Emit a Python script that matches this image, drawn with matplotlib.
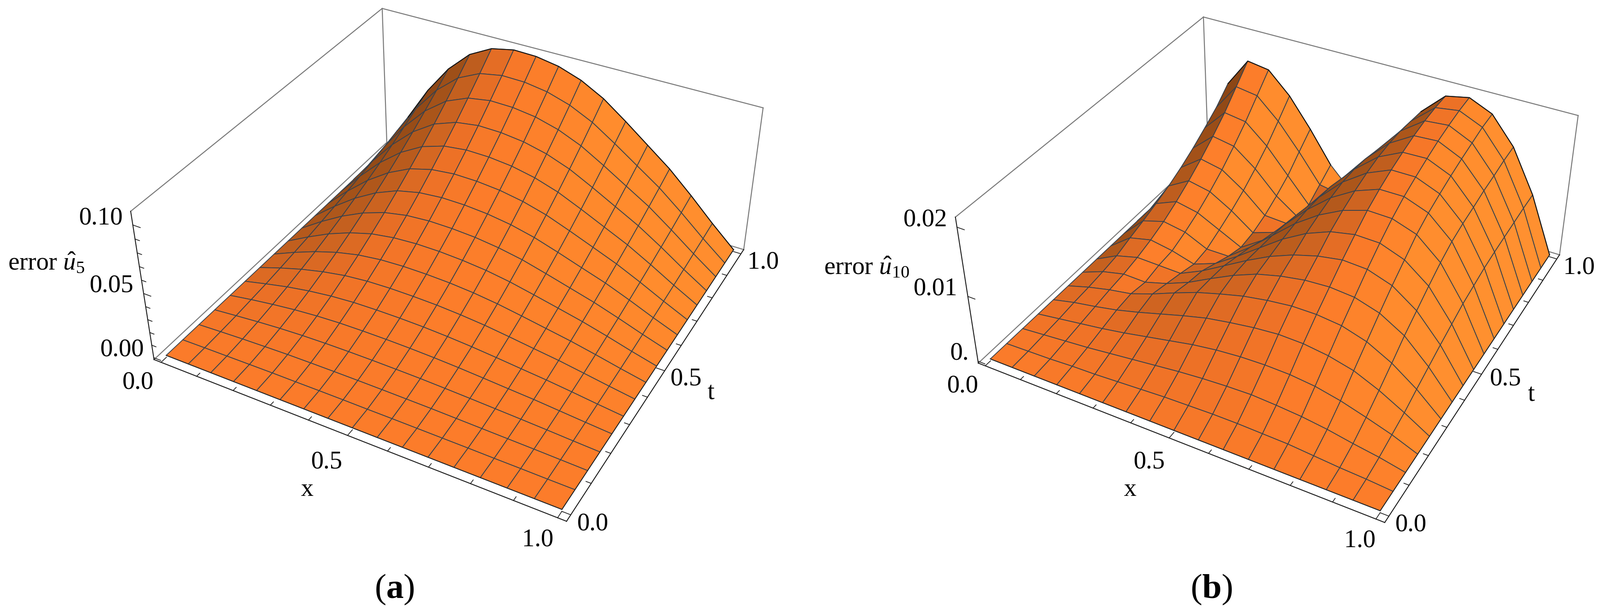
import numpy as np
import matplotlib
matplotlib.use('Agg')
import matplotlib.pyplot as plt

plt.rcParams['font.family'] = ['Liberation Serif']
plt.rcParams['mathtext.fontset'] = 'custom'
plt.rcParams['mathtext.rm'] = 'Liberation Serif'
plt.rcParams['mathtext.it'] = 'Liberation Serif:italic'
plt.rcParams['mathtext.bf'] = 'Liberation Serif:bold'

W = 3620
H = 1387

x_nodes = [i / 16 for i in range(17)]
t_nodes = [j / 16 for j in range(17)]

# error of u5, one row per t node
err_a = [
    [0, 0, 0, 0, 0, 0, 0, 0, 0, 0, 0, 0, 0, 0, 0, 0, 0],
    [0, .0003, .0005, .0007, .0009, .0009, .0010, .0010, .0009, .0009, .0008, .0007, .0006, .0004, .0003, .0001, 0],
    [0, .0009, .0017, .0023, .0028, .0030, .0031, .0031, .0030, .0028, .0026, .0022, .0018, .0014, .0010, .0005, 0],
    [0, .0017, .0033, .0046, .0055, .0060, .0062, .0062, .0060, .0057, .0051, .0044, .0036, .0028, .0019, .0009, 0],
    [0, .0029, .0054, .0075, .0090, .0099, .0102, .0102, .0099, .0093, .0084, .0072, .0059, .0047, .0031, .0015, 0],
    [0, .0041, .0079, .0109, .0131, .0144, .0148, .0148, .0144, .0135, .0122, .0105, .0086, .0068, .0046, .0022, 0],
    [0, .0057, .0108, .0149, .0180, .0197, .0203, .0202, .0197, .0185, .0168, .0144, .0118, .0093, .0062, .0030, 0],
    [0, .0074, .0140, .0194, .0233, .0255, .0263, .0262, .0255, .0240, .0217, .0186, .0153, .0120, .0081, .0039, 0],
    [0, .0092, .0176, .0243, .0293, .0320, .0331, .0330, .0320, .0302, .0273, .0234, .0193, .0151, .0102, .0049, 0],
    [0, .0113, .0214, .0297, .0357, .0391, .0404, .0402, .0391, .0368, .0334, .0286, .0235, .0184, .0124, .0060, 0],
    [0, .0135, .0257, .0356, .0428, .0468, .0484, .0482, .0468, .0441, .0399, .0342, .0281, .0221, .0149, .0072, 0],
    [0, .0159, .0302, .0418, .0503, .0550, .0569, .0566, .0550, .0518, .0469, .0402, .0331, .0259, .0175, .0085, 0],
    [0, .0184, .0349, .0484, .0582, .0638, .0659, .0656, .0638, .0601, .0544, .0466, .0383, .0300, .0202, .0098, 0],
    [0, .0211, .0400, .0555, .0667, .0730, .0755, .0751, .0730, .0688, .0623, .0534, .0439, .0344, .0232, .0112, 0],
    [0, .0239, .0454, .0630, .0757, .0829, .0857, .0853, .0829, .0781, .0707, .0606, .0498, .0391, .0263, .0128, 0],
    [0, .0269, .0511, .0708, .0851, .0932, .0963, .0959, .0932, .0878, .0795, .0681, .0560, .0439, .0296, .0143, 0],
    [0, .0300, .0570, .0790, .0950, .1040, .1075, .1070, .1040, .0980, .0887, .0760, .0625, .0490, .0330, .0160, 0],
]

# error of u10, same layout
err_b = [
    [0, 0, 0, 0, 0, 0, 0, 0, 0, 0, 0, 0, 0, 0, 0, 0, 0],
    [0, .0001, .0002, .0004, .0005, .0007, .0009, .0011, .0012, .0013, .0013, .0012, .0011, .0008, .0005, .0003, 0],
    [0, .0003, .0006, .0009, .0013, .0017, .0021, .0025, .0028, .0030, .0031, .0029, .0026, .0021, .0014, .0008, 0],
    [0, .0005, .0010, .0015, .0021, .0028, .0035, .0042, .0047, .0050, .0051, .0050, .0046, .0038, .0027, .0015, 0],
    [0, .0008, .0014, .0021, .0030, .0040, .0050, .0059, .0065, .0070, .0073, .0072, .0067, .0058, .0042, .0022, 0],
    [0, .0010, .0018, .0024, .0036, .0050, .0063, .0073, .0082, .0088, .0092, .0092, .0088, .0077, .0058, .0032, 0],
    [0, .0013, .0021, .0020, .0030, .0044, .0062, .0079, .0093, .0102, .0108, .0110, .0107, .0096, .0075, .0041, 0],
    [0, .0017, .0026, .0025, .0024, .0040, .0060, .0080, .0098, .0112, .0122, .0128, .0126, .0114, .0089, .0050, 0],
    [0, .0025, .0033, .0027, .0017, .0030, .0053, .0078, .0103, .0123, .0137, .0144, .0143, .0130, .0103, .0058, 0],
    [0, .0032, .0042, .0036, .0020, .0020, .0046, .0076, .0106, .0130, .0148, .0159, .0158, .0146, .0116, .0066, 0],
    [0, .0040, .0054, .0047, .0030, .0013, .0036, .0072, .0107, .0136, .0157, .0170, .0170, .0157, .0126, .0071, 0],
    [0, .0049, .0068, .0061, .0041, .0016, .0028, .0067, .0106, .0140, .0164, .0179, .0179, .0165, .0132, .0076, 0],
    [0, .0060, .0084, .0077, .0054, .0024, .0022, .0061, .0103, .0140, .0169, .0186, .0187, .0172, .0136, .0079, 0],
    [0, .0073, .0102, .0096, .0070, .0036, .0012, .0052, .0096, .0137, .0171, .0192, .0194, .0178, .0141, .0081, 0],
    [0, .0088, .0122, .0117, .0088, .0050, .0012, .0042, .0086, .0131, .0171, .0196, .0199, .0183, .0144, .0083, 0],
    [0, .0104, .0146, .0141, .0110, .0070, .0026, .0020, .0072, .0123, .0168, .0198, .0203, .0188, .0148, .0085, 0],
    [0, .0125, .0170, .0165, .0133, .0089, .0040, .0006, .0052, .0115, .0165, .0198, .0205, .0190, .0150, .0086, 0],
]

xt_minor = [0.1, 0.2, 0.3, 0.4, 0.6, 0.7, 0.8, 0.9]
xt_major = [0.0, 0.5, 1.0]
z_major_a = [0.0, 0.05, 0.10]
z_minor_a = [0.01, 0.02, 0.03, 0.04, 0.06, 0.07, 0.08, 0.09]
z_major_b = [0.0, 0.01, 0.02]
z_minor_b = []

# pixel position of the box corners, (x, t, z) in unit box -> (px, py)
corners_a = {(0, 0, 0): (348, 814), (0, 0, 1): (296, 478), (1, 0, 0): (1282, 1179), (1, 1, 0): (1682, 566),
             (1, 1, 1): (1727, 243), (0, 1, 0): (876, 321), (0, 1, 1): (864, 20)}
corners_b = {(0, 0, 0): (2213, 822), (0, 0, 1): (2162, 491), (1, 0, 0): (3133, 1182), (1, 1, 0): (3528, 577),
             (1, 1, 1): (3571, 261), (0, 1, 0): (2734, 336), (0, 1, 1): (2722, 39)}

# text, x centre, baseline y
labels_a = [('0.10', 229, 507), ('0.05', 253, 661), ('0.00', 277, 806), ('0.0', 312, 879), ('0.5', 739, 1060),
            ('1.0', 1217, 1235), ('0.0', 1341, 1199), ('0.5', 1552, 872), ('1.0', 1727, 607),
            ('x', 695, 1122), ('t', 1608, 903), (r'error $\hat{u}_{5}$', 105, 610)]
labels_b = [('0.02', 2094, 511), ('0.01', 2117, 667), ('0.', 2171, 814), ('0.0', 2178, 887), ('0.5', 2600, 1060),
            ('1.0', 3077, 1237), ('0.0', 3192, 1202), ('0.5', 3406, 872), ('1.0', 3573, 619),
            ('x', 2557, 1122), ('t', 3464, 908), (r'error $\hat{u}_{10}$', 1961, 620)]

line_col = '#39424c'
box_col = '#777777'
shade_k = [-1.0, -0.6, -0.2, 0.0, 0.5, 1.0]
shade_r = [110, 170, 235, 252, 255, 255]
shade_g = [55, 85, 112, 124, 140, 145]
shade_b = [15, 26, 38, 42, 45, 48]

fig = plt.figure(figsize=(W / 100, H / 100), dpi=100)


def camera(corners, zlim):
    # fit a perspective camera to the corners, then go from data to unit box
    rows = []
    for (u, v, w), (px, py) in corners.items():
        rows.append([u, v, w, 1, 0, 0, 0, 0, -px * u, -px * v, -px * w, -px])
        rows.append([0, 0, 0, 0, u, v, w, 1, -py * u, -py * v, -py * w, -py])
    P = np.linalg.svd(np.array(rows, float))[2][-1].reshape(3, 4)
    if P[2] @ np.array([.5, .5, .5, 1]) < 0:
        P = -P
    S = np.array([[1 / 1.04, 0, 0, .02 / 1.04], [0, 1 / 1.04, 0, .02 / 1.04],
                  [0, 0, 1 / (zlim[1] - zlim[0]), -zlim[0] / (zlim[1] - zlim[0])], [0, 0, 0, 1]])
    P = P @ S
    return np.array([P[0], P[1], [0, 0, 0, -1], P[2]])


def panel(Z, corners, zlim, zmaj, zmin, vis, labels, cap, cap_x):
    Z = np.array(Z)
    ax = fig.add_axes([0, 0, 1, 1], projection='3d')
    M = camera(corners, zlim)
    ax.set_proj_type('ortho')
    ax.get_proj = lambda: M
    ax.apply_aspect = lambda position=None: None
    ax.viewLim.intervalx = (0, W)
    ax.viewLim.intervaly = (H, 0)
    ax.set_axis_off()
    ax.patch.set_visible(False)
    ax.computed_zorder = False

    X, T = np.meshgrid(x_nodes, t_nodes)
    lo, hi = -.02, 1.02
    z0, z1 = zlim

    # back of the box
    for a, b in [((lo, lo, z1), (lo, hi, z1)), ((lo, hi, z1), (hi, hi, z1)), ((hi, hi, z1), (hi, hi, z0)),
                 ((lo, hi, z1), (lo, hi, z0)), ((lo, lo, z0), (lo, hi, z0)), ((lo, hi, z0), (hi, hi, z0))]:
        ax.plot(*zip(a, b), color=box_col, lw=1.6, zorder=1)

    # quad colours from the slope in box units
    sc = 0.42 / (z1 - z0)
    dzx = (Z[:-1, 1:] + Z[1:, 1:] - Z[:-1, :-1] - Z[1:, :-1]) / 2 * 16 * sc
    dzt = (Z[1:, :-1] + Z[1:, 1:] - Z[:-1, :-1] - Z[:-1, 1:]) / 2 * 16 * sc
    k = (-dzx - 0.15 * dzt) / np.sqrt(1 + dzx ** 2 + dzt ** 2)
    cols = np.dstack([np.interp(k, shade_k, shade_r), np.interp(k, shade_k, shade_g),
                      np.interp(k, shade_k, shade_b)]) / 255

    surf = ax.plot_surface(X, T, Z, rstride=1, cstride=1, facecolors=cols, shade=False, zorder=2)
    surf.set_edgecolor(line_col)
    surf.set_linewidth(1.3)

    # surface outline where it can be seen
    ax.plot(x_nodes, [0] * 17, Z[0], color='#222222', lw=1.3, zorder=3)
    ax.plot([1] * 17, t_nodes, Z[:, -1], color='#222222', lw=1.3, zorder=3)
    for i0, i1 in vis:
        ax.plot(x_nodes[i0:i1], [1] * (i1 - i0), Z[-1, i0:i1], color='#111111', lw=1.5, zorder=3)

    # front axes with ticks
    for a, b in [((lo, lo, z0), (hi, lo, z0)), ((hi, lo, z0), (hi, hi, z0)), ((lo, lo, z0), (lo, lo, z1))]:
        ax.plot(*zip(a, b), color='#1a1a1a', lw=1.5, zorder=4)
    for v, ln in [(v, .02) for v in xt_major] + [(v, .012) for v in xt_minor]:
        ax.plot([v, v], [lo, lo + ln], [z0, z0], color='#1a1a1a', lw=1.2, zorder=4)
        ax.plot([hi, hi - ln], [v, v], [z0, z0], color='#1a1a1a', lw=1.2, zorder=4)
    for v, ln in [(v, .02) for v in zmaj] + [(v, .012) for v in zmin]:
        ax.plot([lo, lo + ln], [lo, lo], [v, v], color='#1a1a1a', lw=1.2, zorder=4)

    for s, px, py in labels:
        fig.text(px / W, 1 - py / H, s, fontsize=41, ha='center', va='baseline', color='black')
    fig.text(cap_x / W, 1 - 1353 / H, cap, fontsize=57, ha='center', va='baseline', color='black')


panel(err_a, corners_a, (-0.0015, 0.1096), z_major_a, z_minor_a, [(1, 17)], labels_a, r'($\mathbf{a}$)', 892)
panel(err_b, corners_b, (-0.0003, 0.0214), z_major_b, z_minor_b, [(1, 7), (10, 17)], labels_b,
      r'($\mathbf{b}$)', 2741)

fig.savefig('out.png', dpi=100)
